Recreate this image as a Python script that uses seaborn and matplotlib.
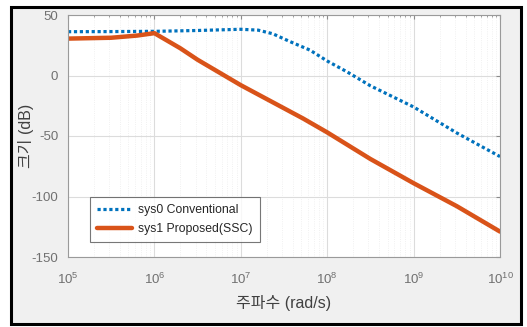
import numpy as np
import pandas as pd
import seaborn as sns
import matplotlib.pyplot as plt
from matplotlib.patches import Rectangle
from matplotlib.ticker import LogLocator, NullFormatter

# values (log10 of frequency, magnitude in dB)
sys0_logw = [5.0, 5.5, 6.0, 6.5, 7.0, 7.2, 7.37, 7.57, 7.8, 8.0, 8.23, 8.5, 9.0, 9.5, 10.0]
sys0_db = [36.2, 36.3, 36.5, 37.2, 38.2, 37.5, 34.5, 28.0, 21.0, 12.0, 3.0, -8.5, -26.0, -47.5, -67.0]
sys1_logw = [5.0, 5.5, 5.8, 6.0, 6.3, 6.5, 7.0, 7.72, 8.0, 8.5, 9.0, 9.5, 10.0]
sys1_db = [30.5, 31.2, 33.0, 35.0, 22.5, 13.0, -8.0, -35.5, -47.0, -69.0, -89.0, -108.0, -129.0]
labels = ["sys0 Conventional", "sys1 Proposed(SSC)"]

df0 = pd.DataFrame({"w": np.power(10.0, sys0_logw), "db": sys0_db})
df1 = pd.DataFrame({"w": np.power(10.0, sys1_logw), "db": sys1_db})

sns.set_style("white")
plt.rcParams['font.family'] = ['Liberation Sans', 'Noto Sans CJK KR', 'DejaVu Sans']
plt.rcParams['axes.unicode_minus'] = False

fig = plt.figure(figsize=(5.27, 3.27), dpi=100)
fig.patch.set_facecolor("white")
fig.patches.append(Rectangle((11 / 527, 1 - 324 / 327), 510 / 527, 317 / 327,
                             transform=fig.transFigure, facecolor="#f0f0f0",
                             edgecolor="black", linewidth=2.2, zorder=-10))

ax = fig.add_axes([68 / 527, 1 - 257 / 327, 432 / 527, 242 / 327])
ax.set_facecolor("white")

sns.lineplot(data=df0, x="w", y="db", ax=ax, color="#0072BD", linewidth=2.3,
             linestyle=(0, (1, 0.85)), label=labels[0])
sns.lineplot(data=df1, x="w", y="db", ax=ax, color="#D95319", linewidth=3.2,
             label=labels[1])

ax.set_xscale("log")
ax.set_xlim(1e5, 1e10)
ax.set_ylim(-150, 50)
ax.set_yticks([-150, -100, -50, 0, 50])
ax.xaxis.set_major_locator(LogLocator(base=10, numticks=10))
ax.xaxis.set_minor_locator(LogLocator(base=10, subs=np.arange(2, 10), numticks=100))
ax.xaxis.set_minor_formatter(NullFormatter())

ax.grid(True, which="major", color="#dcdcdc", linewidth=0.8)
ax.grid(True, which="minor", axis="x", color="#ececec", linewidth=0.6, linestyle=":")
ax.set_axisbelow(True)

for s in ax.spines.values():
    s.set_color("#9a9a9a")
    s.set_linewidth(0.8)
ax.tick_params(which="both", direction="in", top=True, right=True, colors="#8a8a8a",
               labelcolor="#707070", labelsize=9.5)
ax.tick_params(which="major", length=3)
ax.tick_params(which="minor", length=1.5)
ax.tick_params(axis="x", which="major", pad=11)
ax.tick_params(axis="y", which="major", pad=7)

ax.set_xlabel("주파수 (rad/s)", fontsize=11.5, color="#404040")
ax.set_ylabel("크기 (dB)", fontsize=11.5, color="#404040")
ax.xaxis.set_label_coords(0.5, -0.155)
ax.yaxis.set_label_coords(-0.078, 0.5)

leg = ax.legend(loc="lower left", bbox_to_anchor=(0.051, 0.062), fontsize=8.8,
                frameon=True, fancybox=False, handlelength=2.9, handletextpad=0.5,
                borderpad=0.55, labelspacing=0.6, borderaxespad=0)
leg.get_frame().set_edgecolor("#555555")
leg.get_frame().set_linewidth(0.8)

fig.savefig("out.png", dpi=100)
